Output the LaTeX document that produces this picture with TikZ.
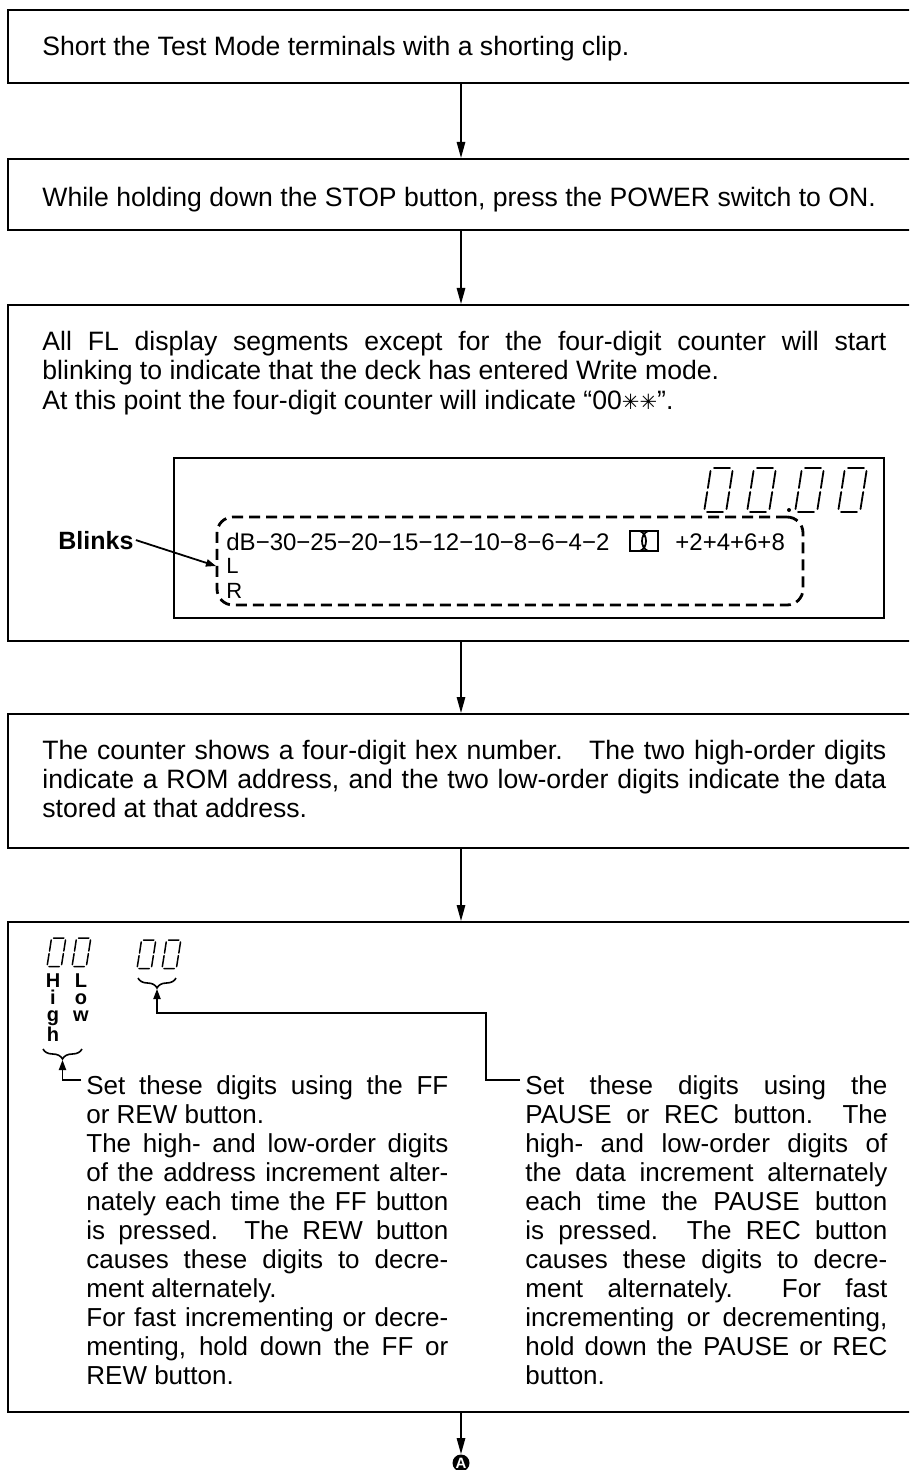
\documentclass[tikz,border=0pt]{standalone}
\usepackage{fontspec}
\setmainfont{Liberation Sans}
\newfontfamily\dejavu{DejaVu Sans}
\usetikzlibrary{arrows.meta,fit,decorations.pathreplacing}
\tikzset{
  sevenzero/.pic={
    \draw[line cap=round] (10,0)--(26,0) (3,44)--(19,44)
      (6.5,3)--(3.9,20) (3.2,24)--(0.5,41)
      (28.5,3)--(25.9,20) (25.2,24)--(22.5,41);
  }
}
\begin{document}
\begin{tikzpicture}[x=0.5pt,y=-0.5pt,
  box/.style={draw, line width=1pt, inner sep=0pt},
  flow/.style={draw, line width=0.8pt, -{Triangle[length=8pt,width=4.2pt]}},
  ptr/.style={draw, line width=0.7pt, -{Triangle[length=5pt,width=3.6pt]}},
  txt/.style={anchor=base west, inner sep=0pt, align=justify, text width=422pt,
    font=\fontsize{13.3}{14.5}\selectfont},
  coltxt/.style={anchor=base west, inner sep=0pt, align=justify, text width=181pt,
    font=\fontsize{13}{14.5}\selectfont},
  disptxt/.style={anchor=base west, inner sep=0pt, font=\fontsize{12}{12}\selectfont},
  chtxt/.style={anchor=base west, inner sep=0pt, font=\fontsize{11}{11}\selectfont},
  vword/.style={anchor=base, inner sep=0pt, text width=8pt, align=center,
    font=\bfseries\fontsize{10}{8.5}\selectfont},
  brc/.style={line width=0.8pt, decorate, decoration={brace, mirror, amplitude=5pt}}
]
\useasboundingbox (0,0) rectangle (909,1470);
\clip (0,0) rectangle (909,1470);
\fill[white] (0,0) rectangle (909,1470);

% flow boxes (right edges lie beyond the page)
\node[box, fit={(8,10)(914,83)}] (b1) {};
\node[box, fit={(8,159)(914,230)}] (b2) {};
\node[box, fit={(8,305)(914,641)}] (b3) {};
\node[box, fit={(8,714)(914,848)}] (b4) {};
\node[box, fit={(8,922)(914,1412)}] (b5) {};

\node[circle, fill=black, inner sep=0pt, minimum size=8.5pt, text=white,
  font=\bfseries\fontsize{7.5}{7.5}\selectfont] (A) at (461,1463) {A};

\draw[flow] (b1.south) -- (b2.north);
\draw[flow] (b2.south) -- (b3.north);
\draw[flow] (b3.south) -- (b4.north);
\draw[flow] (b4.south) -- (b5.north);
\draw[flow] (b5.south) -- (A.north);

% box texts
\node[txt] (t1) at (42,56) {Short the Test Mode terminals with a shorting clip.};
\node[txt] (t2) at (42,207) {While holding down the STOP button, press the POWER switch to ON.};
\node[txt] (t3) at (42,351) {\makebox[\linewidth][s]{All FL display segments except for the four-digit counter will start}\\
blinking to indicate that the deck has entered Write mode.\\
At this point the four-digit counter will indicate “00{\dejavu\fontsize{10.5}{10}\selectfont ✳✳}”.};
\node[txt] (t4) at (42,759) {\makebox[\linewidth][s]{The counter shows a four-digit hex number.\ \ \ The two high-order digits}\\
\makebox[\linewidth][s]{indicate a ROM address, and the two low-order digits indicate the data}\\
stored at that address.};

% FL display
\node[draw, line width=0.8pt, inner sep=0pt, fit={(174,458)(884,618)}] (disp) {};
\foreach \dx in {704,747,795,838} {
  \pic[line width=0.9pt] at (\dx,468) {sevenzero};
}
\fill (789,510) circle (2);
\node[draw, line width=1.4pt, dash pattern=on 5.5pt off 3pt, rounded corners=8pt,
  inner sep=0pt, fit={(217,517)(803,605)}] (blinkbox) {};
\node[disptxt] (db) at (226,550) {dB−30−25−20−15−12−10−8−6−4−2};
\node[chtxt] (lch) at (226,573) {L};
\node[chtxt] (rch) at (226,598) {R};
\node[disptxt] (plus) at (675,550) {+2+4+6+8};
\node[draw, line width=0.9pt, inner sep=0pt, fit={(630,531)(658,551)}] (dolby) {};
\draw[line width=0.9pt] (640,531) .. controls (648,534) and (648,548) .. (640,551)
  (648,531) .. controls (640,534) and (640,548) .. (648,551);
\node[anchor=base west, inner sep=0pt, font=\bfseries\fontsize{12.5}{14}\selectfont] (blk) at (58,549) {Blinks};
\coordinate (bend) at (216,566);
\draw[ptr, line width=0.9pt] ([xshift=1pt]blk.east) -- (bend);

% address / data digits
\pic[line width=0.75pt, scale=0.65] at (47,938) {sevenzero};
\pic[line width=0.75pt, scale=0.65] at (72,938) {sevenzero};
\pic[line width=0.75pt, scale=0.65] at (137,940) {sevenzero};
\pic[line width=0.75pt, scale=0.65] at (162,940) {sevenzero};
\node[vword] (high) at (53,987) {H\\i\\g\\h};
\node[vword] (low) at (81,987) {L\\o\\w};
\draw[brc] (43,1049) -- (82,1049);
\draw[brc] (138,978) -- (176,978);
\coordinate (ltip) at (62.5,1060);
\coordinate (rtip) at (157,989);

\node[coltxt] (tl) at (86,1094) {\makebox[\linewidth][s]{Set these digits using the FF}\\
or REW button.\\
\makebox[\linewidth][s]{The high- and low-order digits}\\
\makebox[\linewidth][s]{of the address increment alter-}\\
\makebox[\linewidth][s]{nately each time the FF button}\\
\makebox[\linewidth][s]{is pressed.\ \ The REW button}\\
\makebox[\linewidth][s]{causes these digits to decre-}\\
ment alternately.\\
\makebox[\linewidth][s]{For fast incrementing or decre-}\\
\makebox[\linewidth][s]{menting, hold down the FF or}\\
REW button.};
\node[coltxt] (tr) at (525,1094) {\makebox[\linewidth][s]{Set these digits using the}\\
\makebox[\linewidth][s]{PAUSE or REC button.\ \ The}\\
\makebox[\linewidth][s]{high- and low-order digits of}\\
\makebox[\linewidth][s]{the data increment alternately}\\
\makebox[\linewidth][s]{each time the PAUSE button}\\
\makebox[\linewidth][s]{is pressed.\ \ The REC button}\\
\makebox[\linewidth][s]{causes these digits to decre-}\\
\makebox[\linewidth][s]{ment alternately.\ \ For fast}\\
\makebox[\linewidth][s]{incrementing or decrementing,}\\
\makebox[\linewidth][s]{hold down the PAUSE or REC}\\
button.};
\coordinate (lstart) at (81,1080);
\coordinate (rstart) at (520,1080);
\draw[ptr] (lstart) -- (62.5,1080) -- (ltip);
\draw[ptr] (rstart) -- (486,1080) -- (486,1013) -- (157,1013) -- (rtip);
\end{tikzpicture}
\end{document}
